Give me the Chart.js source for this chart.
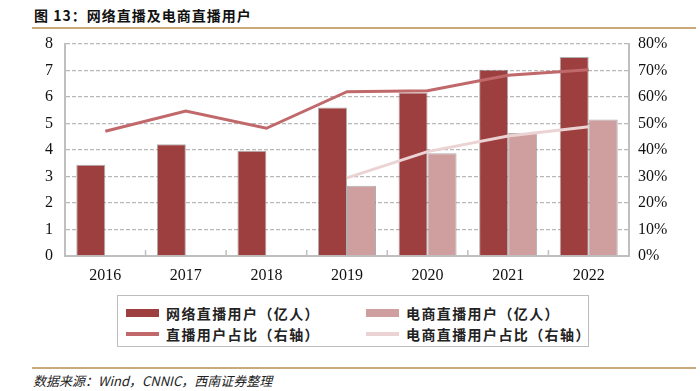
<!DOCTYPE html>
<html>
<head>
<meta charset="utf-8">
<script src="https://cdn.jsdelivr.net/npm/chart.js@4/dist/chart.umd.min.js"></script>
<style>
  body { margin:0; width:700px; height:391px; background:#fff; position:relative; overflow:hidden;
         font-family:"Noto Sans CJK SC","Noto Sans",sans-serif; }
  #title { position:absolute; left:34px; top:5px; font-size:14px; font-weight:bold; letter-spacing:1px; color:#111; }
  .rule { position:absolute; left:32px; width:664px; height:2px; background:#c9a87a; }
  #chartbox { position:absolute; left:0; top:0; width:700px; height:295px; }
  #legend { position:absolute; left:117px; top:295px; width:472px; height:52px; border:1px solid #bdbdbd; box-sizing:border-box; }
  .item { position:absolute; font-size:14px; font-weight:bold; letter-spacing:1.4px; color:#222; line-height:16px; }
  .sw { position:absolute; }
  #source { position:absolute; left:33px; top:371px; font-size:13px; font-style:italic; color:#222; }
</style>
</head>
<body>
<div id="title">图 13：网络直播及电商直播用户</div>
<div class="rule" style="top:27px"></div>
<div id="chartbox"><canvas id="chart" width="700" height="295"></canvas></div>
<div id="legend"></div>
<div class="rule" style="top:367px"></div>
<div id="source">数据来源：Wind，CNNIC，西南证券整理</div>
<script>
// categories and series
var years = ["2016", "2017", "2018", "2019", "2020", "2021", "2022"];
var liveUsers = [3.44, 4.22, 3.97, 5.60, 6.17, 7.03, 7.51];      // 亿人
var ecomUsers = [null, null, null, 2.65, 3.88, 4.64, 5.15];     // 亿人
var liveShare = [47.1, 54.7, 48.2, 62.0, 62.4, 68.2, 70.3];     // %
var ecomShare = [null, null, null, 29.5, 39.4, 45.3, 48.8];     // %

var leftTicks = [0, 1, 2, 3, 4, 5, 6, 7, 8];
var rightTicks = [0, 10, 20, 30, 40, 50, 60, 70, 80];

var darkBar = "#9e3f3f";
var lightBar = "#cf9e9e";
var darkLine = "#c0686a";
var lightLine = "#ecd3d3";
var axisGray = "#bfbfbf";

var serif = { family: "'Liberation Serif','DejaVu Serif',serif", size: 16 };

// legend drawn as html
var legendItems = [
  { text: "网络直播用户（亿人）", color: darkBar, type: "bar", x: 8, y: 9 },
  { text: "电商直播用户（亿人）", color: lightBar, type: "bar", x: 248, y: 9 },
  { text: "直播用户占比（右轴）", color: darkLine, type: "line", x: 8, y: 30 },
  { text: "电商直播用户占比（右轴）", color: lightLine, type: "line", x: 248, y: 30 }
];
var lg = document.getElementById("legend");
legendItems.forEach(function(it){
  var sw = document.createElement("div");
  sw.className = "sw";
  sw.style.left = it.x + "px";
  sw.style.width = "33px";
  sw.style.background = it.color;
  if (it.type == "bar") { sw.style.top = (it.y + 4) + "px"; sw.style.height = "8px"; }
  else { sw.style.top = (it.y + 6) + "px"; sw.style.height = "4px"; }
  lg.appendChild(sw);
  var t = document.createElement("div");
  t.className = "item";
  t.style.left = (it.x + 40) + "px";
  t.style.top = it.y + "px";
  t.textContent = it.text;
  lg.appendChild(t);
});

// small inward tick marks between categories on the x axis
var innerTicks = {
  id: "innerTicks",
  afterDatasetsDraw: function(chart){
    var ctx = chart.ctx, xs = chart.scales.x, area = chart.chartArea;
    var half = (xs.getPixelForValue(1) - xs.getPixelForValue(0)) / 2;
    ctx.save();
    ctx.strokeStyle = axisGray;
    ctx.lineWidth = 1.5;
    for (var i = 1; i < years.length; i++) {
      var px = xs.getPixelForValue(i) - half;
      ctx.beginPath();
      ctx.moveTo(px, area.bottom);
      ctx.lineTo(px, area.bottom - 6);
      ctx.stroke();
    }
    ctx.restore();
  }
};

var chart = new Chart(document.getElementById("chart"), {
  type: "bar",
  data: {
    labels: years,
    datasets: [
      { type: "line", label: "直播用户占比（右轴）", data: liveShare, yAxisID: "y1",
        borderColor: darkLine, borderWidth: 3, pointRadius: 0, tension: 0, order: 1 },
      { type: "line", label: "电商直播用户占比（右轴）", data: ecomShare, yAxisID: "y1",
        borderColor: lightLine, borderWidth: 3, pointRadius: 0, tension: 0, spanGaps: false, order: 1 },
      { label: "网络直播用户（亿人）", data: liveUsers, yAxisID: "y",
        backgroundColor: darkBar, borderColor: "rgba(110,110,110,0.55)", borderWidth: 1,
        barPercentage: 1, categoryPercentage: 0.72, order: 2 },
      { label: "电商直播用户（亿人）", data: ecomUsers, yAxisID: "y",
        backgroundColor: lightBar, borderColor: "rgba(110,110,110,0.55)", borderWidth: 1,
        barPercentage: 1, categoryPercentage: 0.72, order: 2 }
    ]
  },
  options: {
    responsive: false,
    animation: false,
    layout: { padding: { top: 44, left: 0, right: 0, bottom: 0 } },
    plugins: { legend: { display: false }, tooltip: { enabled: false } },
    scales: {
      x: {
        grid: { drawOnChartArea: false, drawTicks: false },
        border: { color: axisGray, width: 2 },
        ticks: { color: "#111", font: serif, padding: 10 },
        afterFit: function(s){ s.height = 39; }
      },
      y: {
        position: "left",
        min: 0, max: 8,
        afterBuildTicks: function(s){ s.ticks = leftTicks.map(function(v){ return { value: v }; }); },
        grid: { color: "#b8b8b8", lineWidth: 1.3, drawTicks: false },
        border: { color: axisGray, width: 2, dash: [4, 2] },
        ticks: { color: "#111", font: serif, padding: 12 },
        afterFit: function(s){ s.width = 65; }
      },
      y1: {
        position: "right",
        min: 0, max: 80,
        afterBuildTicks: function(s){ s.ticks = rightTicks.map(function(v){ return { value: v }; }); },
        grid: { drawOnChartArea: false, drawTicks: false },
        border: { color: axisGray, width: 2 },
        ticks: { color: "#111", font: serif, padding: 9, callback: function(v){ return v + "%"; } },
        afterFit: function(s){ s.width = 71; }
      }
    }
  },
  plugins: [innerTicks]
});
</script>
</body>
</html>
